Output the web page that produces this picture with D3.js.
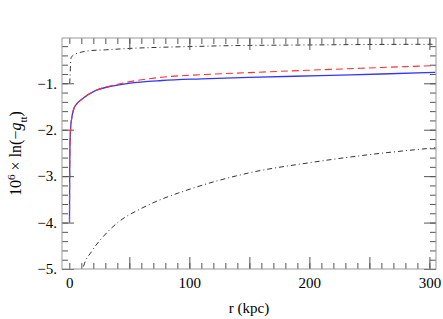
<!DOCTYPE html>
<html>
<head>
<meta charset="utf-8">
<script src="https://cdn.jsdelivr.net/npm/d3@7"></script>
<style>
  body { margin: 0; background: #fff; }
  text { font-family: "Liberation Serif", "DejaVu Serif", serif; }
</style>
</head>
<body>
<div id="chart"></div>
<script>
// values (r in kpc, 10^6 x ln(-g_tt))
var rMain = [0.15, 0.3, 0.5, 1, 2, 3.6, 6, 10.6, 21.7, 35.6, 49.5, 77, 110, 150, 209, 260, 305];
var blueVals = [-4.0, -3.0, -2.4, -2.0, -1.75, -1.56, -1.45, -1.34, -1.16, -1.06, -1.0, -0.94, -0.905, -0.875, -0.835, -0.80, -0.765];
var redVals = [-4.0, -3.0, -2.4, -2.0, -1.75, -1.56, -1.45, -1.34, -1.16, -1.05, -0.97, -0.87, -0.815, -0.77, -0.71, -0.66, -0.62];

var rUpper = [0.3, 0.6, 1, 1.5, 3, 5, 10, 16, 30, 50, 100, 134, 200, 250, 305];
var upperVals = [-1.0, -0.87, -0.6, -0.45, -0.40, -0.37, -0.33, -0.30, -0.28, -0.25, -0.21, -0.19, -0.175, -0.165, -0.16];

var rLower = [10, 11.7, 18.7, 28.3, 40.8, 58.9, 75.6, 97, 148, 203, 259, 305];
var lowerVals = [-5.2, -4.96, -4.62, -4.30, -3.99, -3.71, -3.51, -3.31, -2.94, -2.70, -2.51, -2.39];

var xMajor = [50, 100, 150, 200, 250, 300];
var xLabels = [0, 100, 200, 300];
var xMinor = d3.range(0, 301, 10);
var yMajor = [-5, -4, -3, -2, -1];
var yMinor = d3.range(-4.8, -0.1, 0.2);

function main() {
    var margin = { top: 38, right: 7, bottom: 50, left: 62 };
    var width = 443 - margin.left - margin.right;
    var height = 319 - margin.top - margin.bottom;

    var svg = d3.select("#chart")
        .append("svg")
        .attr("width", 443)
        .attr("height", 319)
        .append("g")
        .attr("transform", "translate(" + margin.left + "," + margin.top + ")");

    var x = d3.scaleLinear().domain([-6.1, 305.5]).range([0, width]);
    var y = d3.scaleLinear().domain([-5, -0.025]).range([height, 0]);

    svg.append("clipPath").attr("id", "clip")
        .append("rect").attr("width", width).attr("height", height);

    // curves
    var series = [
        { r: rUpper, v: upperVals, color: "#333", dash: "5,3,1,3", w: 1 },
        { r: rLower, v: lowerVals, color: "#333", dash: "5,3,1,3", w: 1 },
        { r: rMain, v: blueVals, color: "#3535ff", dash: null, w: 1.3 },
        { r: rMain, v: redVals, color: "#ff3030", dash: "7,4", w: 1.1 }
    ];
    var line = d3.line()
        .x(function (d) { return x(d[0]); })
        .y(function (d) { return y(d[1]); })
        .curve(d3.curveMonotoneX);

    svg.append("g").attr("clip-path", "url(#clip)")
        .selectAll("path")
        .data(series)
        .enter()
        .append("path")
        .attr("d", function (s) { return line(d3.zip(s.r, s.v)); })
        .attr("fill", "none")
        .attr("stroke", function (s) { return s.color; })
        .attr("stroke-width", function (s) { return s.w; })
        .attr("stroke-dasharray", function (s) { return s.dash; });

    // ticks, all pointing inward
    function styleAxis(g) {
        g.select(".domain").remove();
        g.selectAll("line").attr("stroke", "#555");
        g.selectAll("text").attr("font-size", "15px").attr("fill", "#000")
            .attr("font-family", "Liberation Serif, serif");
    }
    var fmtY = function (d) { return "\u2212" + Math.abs(d) + "."; };

    svg.append("g").attr("transform", "translate(0," + height + ")")
        .call(d3.axisBottom(x).tickValues(xMinor).tickSize(-6).tickFormat(""))
        .call(styleAxis);
    svg.append("g").attr("transform", "translate(0," + height + ")")
        .call(d3.axisBottom(x).tickValues(xMajor).tickSize(-12).tickFormat(""))
        .call(styleAxis);
    svg.append("g").attr("transform", "translate(0," + height + ")")
        .call(d3.axisBottom(x).tickValues(xLabels).tickSize(0).tickPadding(8).tickFormat(d3.format("d")))
        .call(styleAxis);
    svg.append("g")
        .call(d3.axisTop(x).tickValues(xMinor).tickSize(-6).tickFormat(""))
        .call(styleAxis);
    svg.append("g")
        .call(d3.axisTop(x).tickValues(xMajor).tickSize(-12).tickFormat(""))
        .call(styleAxis);

    svg.append("g")
        .call(d3.axisLeft(y).tickValues(yMinor).tickSize(-6).tickFormat(""))
        .call(styleAxis);
    svg.append("g")
        .call(d3.axisLeft(y).tickValues(yMajor).tickSize(-12).tickPadding(5).tickFormat(fmtY))
        .call(styleAxis);
    svg.append("g").attr("transform", "translate(" + width + ",0)")
        .call(d3.axisRight(y).tickValues(yMinor).tickSize(-6).tickFormat(""))
        .call(styleAxis);
    svg.append("g").attr("transform", "translate(" + width + ",0)")
        .call(d3.axisRight(y).tickValues(yMajor).tickSize(-12).tickFormat(""))
        .call(styleAxis);

    // frame
    svg.append("rect")
        .attr("width", width)
        .attr("height", height)
        .attr("fill", "none")
        .attr("stroke", "#999")
        .attr("stroke-width", 1);

    // axis labels
    svg.append("text")
        .attr("x", width / 2)
        .attr("y", height + 44)
        .attr("text-anchor", "middle")
        .attr("font-size", "15px")
        .text("r (kpc)");

    var yt = svg.append("text")
        .attr("transform", "translate(-41," + (height / 2) + ") rotate(-90)")
        .attr("text-anchor", "middle")
        .attr("font-size", "16px");
    yt.append("tspan").text("10");
    yt.append("tspan").attr("baseline-shift", "super").attr("font-size", "11px").text("6");
    yt.append("tspan").text(" \u00d7 ln(\u2212");
    yt.append("tspan").attr("font-style", "italic").text("g");
    yt.append("tspan").attr("baseline-shift", "sub").attr("font-size", "11px").text("tt");
    yt.append("tspan").text(")");
}
window.addEventListener('load', main);
</script>
</body>
</html>
